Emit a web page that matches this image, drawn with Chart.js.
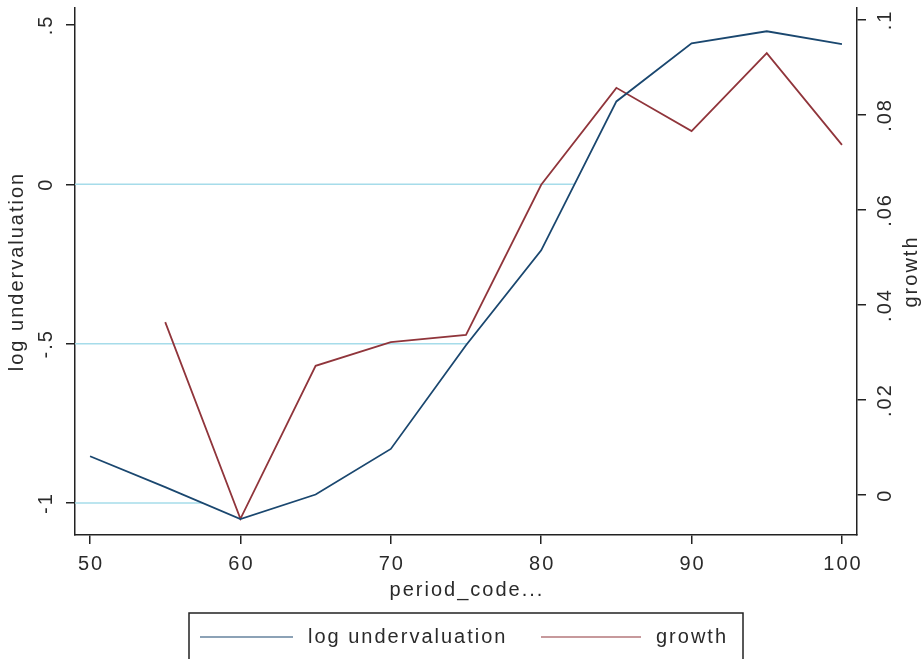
<!DOCTYPE html>
<html>
<head>
<meta charset="utf-8">
<script src="https://cdn.jsdelivr.net/npm/chart.js@4"></script>
<style>
  html, body { margin: 0; padding: 0; background: #fff; }
  #wrap { width: 923px; height: 659px; }
</style>
</head>
<body>
<div id="wrap"><canvas id="myChart"></canvas></div>
<script>
// ---------------- data ----------------
var periods = [50, 55, 60, 65, 70, 75, 80, 85, 90, 95, 100];
var logUnder = [-0.853, -0.95, -1.05, -0.973, -0.83, -0.505, -0.207, 0.26, 0.442, 0.48, 0.44];
var growth = [null, 0.0364, -0.005, 0.0272, 0.0322, 0.0337, 0.0653, 0.0857, 0.0766, 0.093, 0.0737];
var xTicks = [50, 60, 70, 80, 90, 100];
var leftTicks = [-1, -0.5, 0, 0.5];
var leftTickLabels = ["-1", "-.5", "0", ".5"];
var rightTicks = [0, 0.02, 0.04, 0.06, 0.08, 0.1];
var rightTickLabels = ["0", ".02", ".04", ".06", ".08", ".1"];
var refLines = [0, -0.5, -1];   // light blue lines, drawn until the blue series crosses them

var blue = '#1a476f';
var red = '#90353b';
var FONT = '"Liberation Sans", Arial, sans-serif';
var TXT = '#2a2a2a';

// where the blue line first crosses a level (linear interpolation between points)
function crossing(level) {
  for (var i = 0; i < periods.length - 1; i++) {
    var a = logUnder[i], b = logUnder[i + 1];
    if ((a - level) * (b - level) <= 0 && a !== b) {
      return periods[i] + (level - a) / (b - a) * (periods[i + 1] - periods[i]);
    }
  }
  return periods[periods.length - 1];
}

var refSets = refLines.map(function (lv) {
  return {
    label: 'ref' + lv,
    data: [{x: 49, y: lv}, {x: crossing(lv), y: lv}],
    borderColor: '#a6dcea',
    borderWidth: 1.5,
    pointRadius: 0,
    yAxisID: 'y',
    order: 5
  };
});

function rotText(ctx, txt, x, y) {
  ctx.save();
  ctx.translate(x, y);
  ctx.rotate(-Math.PI / 2);
  ctx.fillText(txt, 0, 0);
  ctx.restore();
}

var extras = {
  id: 'extras',
  afterDraw: function (chart) {
    var ctx = chart.ctx;
    var a = chart.chartArea;
    var yl = chart.scales.y, yr = chart.scales.y2, xs = chart.scales.x;
    ctx.save();
    ctx.fillStyle = TXT;
    ctx.font = '20px ' + FONT;
    ctx.letterSpacing = '2px';
    ctx.textAlign = 'center';
    ctx.textBaseline = 'middle';
    // tick labels
    leftTicks.forEach(function (v, i) {
      rotText(ctx, leftTickLabels[i], a.left - 29, yl.getPixelForValue(v));
    });
    rightTicks.forEach(function (v, i) {
      rotText(ctx, rightTickLabels[i], a.right + 28, yr.getPixelForValue(v));
    });
    xTicks.forEach(function (v) {
      ctx.fillText(String(v), xs.getPixelForValue(v) + 1, a.bottom + 29);
    });
    // axis titles
    rotText(ctx, 'log undervaluation', 17, (a.top + a.bottom) / 2);
    rotText(ctx, 'growth', a.right + 54, (a.top + a.bottom) / 2);
    ctx.fillText('period_code...', (a.left + a.right) / 2 + 1, a.bottom + 55);
    // legend box
    var bx = 189, by = a.bottom + 78, bw = 554, bh = 60;
    ctx.strokeStyle = '#222';
    ctx.lineWidth = 1.5;
    ctx.strokeRect(bx, by, bw, bh);
    var ly = by + 24;
    ctx.textAlign = 'left';
    ctx.lineWidth = 1.2;
    ctx.strokeStyle = blue;
    ctx.beginPath(); ctx.moveTo(200, ly); ctx.lineTo(293, ly); ctx.stroke();
    ctx.fillText(chart.data.datasets[0].label, 308, ly);
    ctx.strokeStyle = red;
    ctx.beginPath(); ctx.moveTo(541, ly); ctx.lineTo(641, ly); ctx.stroke();
    ctx.fillText(chart.data.datasets[1].label, 656, ly);
    ctx.restore();
  }
};

var ctx = document.getElementById('myChart').getContext('2d');
var myChart = new Chart(ctx, {
  type: 'line',
  data: {
    datasets: [{
      label: 'log undervaluation',
      data: periods.map(function (p, i) { return {x: p, y: logUnder[i]}; }),
      borderColor: blue,
      borderWidth: 1.8,
      pointRadius: 0,
      yAxisID: 'y',
      order: 1
    }, {
      label: 'growth',
      data: periods.map(function (p, i) { return {x: p, y: growth[i]}; }),
      borderColor: red,
      borderWidth: 1.8,
      pointRadius: 0,
      spanGaps: false,
      yAxisID: 'y2',
      order: 2
    }].concat(refSets)
  },
  options: {
    responsive: true,
    maintainAspectRatio: false,
    animation: false,
    layout: {padding: {top: 8, left: 0, right: 0, bottom: 0}},
    plugins: {legend: {display: false}, tooltip: {enabled: false}},
    scales: {
      x: {
        type: 'linear',
        min: 49, max: 101,
        afterBuildTicks: function (s) { s.ticks = xTicks.map(function (v) { return {value: v}; }); },
        afterFit: function (s) { s.height = 124; },
        grid: {drawOnChartArea: false, drawTicks: true, tickLength: 9, color: '#222', lineWidth: 1.5},
        border: {display: true, color: '#222', width: 1.5},
        ticks: {display: false}
      },
      y: {
        position: 'left',
        min: -1.1, max: 0.553,
        afterBuildTicks: function (s) { s.ticks = leftTicks.map(function (v) { return {value: v}; }); },
        afterFit: function (s) { s.width = 75; },
        grid: {drawOnChartArea: false, drawTicks: true, tickLength: 9, color: '#222', lineWidth: 1.5},
        border: {display: true, color: '#222', width: 1.5},
        ticks: {display: false}
      },
      y2: {
        position: 'right',
        min: -0.0084, max: 0.1025,
        afterBuildTicks: function (s) { s.ticks = rightTicks.map(function (v) { return {value: v}; }); },
        afterFit: function (s) { s.width = 66; },
        grid: {drawOnChartArea: false, drawTicks: true, tickLength: 9, color: '#222', lineWidth: 1.5},
        border: {display: true, color: '#222', width: 1.5},
        ticks: {display: false}
      }
    }
  },
  plugins: [extras]
});
</script>
</body>
</html>
